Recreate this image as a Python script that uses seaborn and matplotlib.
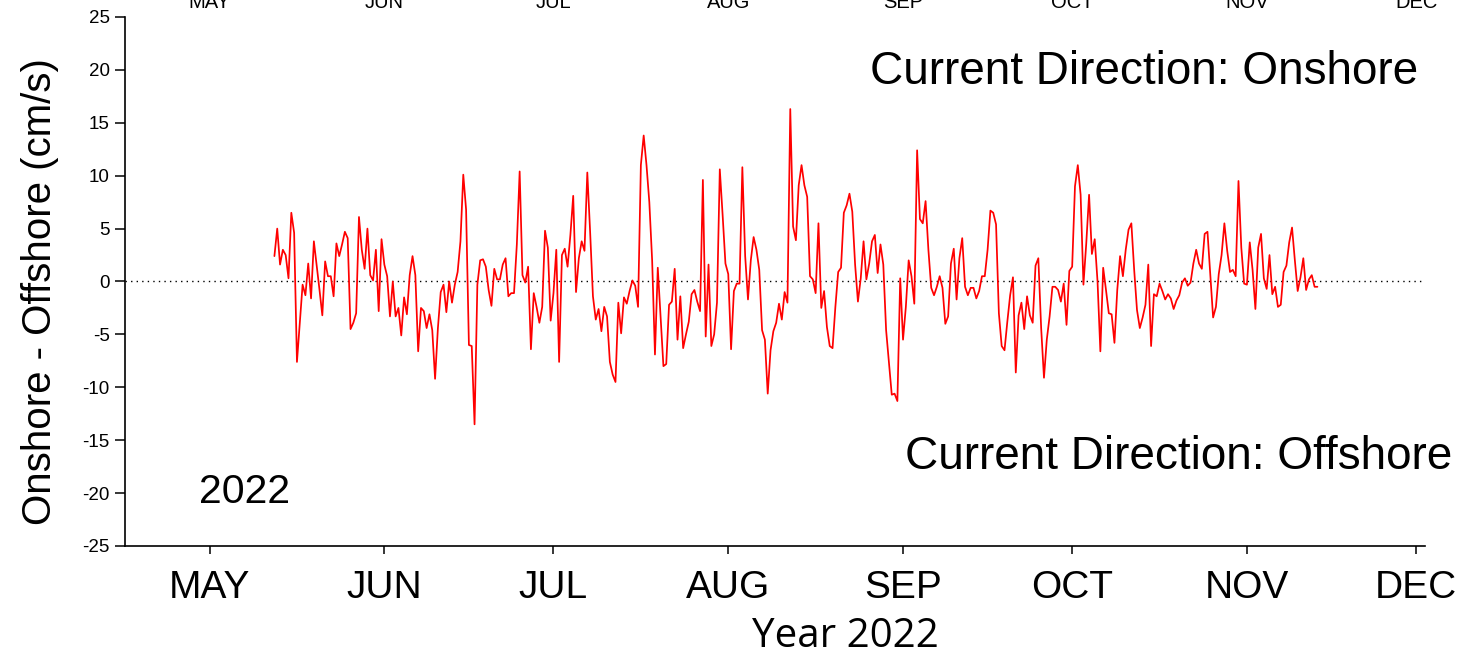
import numpy as np
import pandas as pd
import matplotlib
matplotlib.use("Agg")
import matplotlib.pyplot as plt
import matplotlib.transforms as mtransforms
import seaborn as sns

# ---------------- data (12-hourly onshore-offshore current, cm/s) ----------------
start_time = "2022-05-12 12:00"
seg1 = [2.4, 5.0, 1.6, 3.0, 2.5, 0.3, 6.5, 4.6, -7.6, -4.0, -0.3, -1.3, 1.7, -1.6, 3.8, 1.5,
        -0.8, -3.2, 1.9, 0.5, 0.5, -1.4, 3.6, 2.4, 3.5, 4.7, 4.1, -4.5, -3.9, -3.0, 6.1, 3.0,
        1.2, 5.0, 0.6, 0.1, 3.0, -2.8, 4.0, 1.6, 0.5, -3.3, 0.0, -3.3, -2.5]
seg2 = [-5.1, -1.5, -3.1, 0.6, 2.4, 0.6, -6.6, -2.5, -2.8, -4.4, -3.1, -4.6, -9.2, -4.4, -1.0,
        -0.3, -2.9, 0.0, -2.0, -0.3, 0.9, 3.8, 10.1, 6.8, -6.0, -6.1, -13.5, -0.3, 2.0, 2.1,
        1.4, -0.8, -2.3, 1.2, 0.2, 0.2, 1.6, 2.2, -1.4, -1.1, -1.1, 3.5, 10.4, 0.6, -0.1, 1.4]
seg3 = [-6.4, -1.1, -2.4, -3.9, -2.4, 4.8, 3.2, -3.7, -1.1, 3.0, -7.6, 2.5, 3.1, 1.4, 4.4,
        8.1, -1.0, 2.2, 3.8, 2.9, 10.3, 4.7, -1.4, -3.6, -2.6, -4.7, -2.4, -3.3, -7.6, -8.8,
        -9.5, -2.0, -4.9, -1.5, -2.1, -0.9, 0.1, -0.4, -2.4, 11.0, 13.8, 11.0, 7.5, 2.0, -6.9, 1.3]
seg4 = [-3.3, -8.0, -7.8, -2.2, -1.9, 1.2, -5.5, -1.4, -6.3, -5.0, -3.8, -1.2, -0.8, -1.9, -2.8,
        9.6, -5.2, 1.6, -6.1, -5.0, -2.0, 10.6, 6.3, 1.7, 0.7, -6.4, -0.9, -0.2, -0.2, 10.8,
        2.4, -1.7, 2.0, 4.2, 3.0, 1.1, -4.6, -5.5, -10.6, -6.5, -4.7, -3.9, -2.1, -3.6, -1.0, -2.0]
seg5 = [16.3, 5.2, 3.9, 9.1, 11.0, 9.1, 8.0, 0.5, 0.2, -1.1, 5.5, -2.5, -0.9, -4.3, -6.1,
        -6.3, -2.4, 0.9, 1.3, 6.5, 7.2, 8.3, 6.6, 1.6, -1.9, 0.3, 3.8, 0.2, 1.7, 3.8, 4.4, 0.8,
        3.5, 1.6, -4.6, -7.7, -10.7, -10.6, -11.3, 0.3, -5.5, -2.4, 2.0, 0.5, -2.1, 12.4]
seg6 = [5.9, 5.5, 7.6, 3.0, -0.6, -1.3, -0.5, 0.5, -0.6, -4.0, -3.3, 1.7, 3.1, -1.7, 2.2, 4.1,
        -0.5, -1.3, -0.6, -0.6, -1.6, -0.9, 0.5, 0.5, 3.0, 6.7, 6.5, 5.4, -3.0, -6.1, -6.5,
        -3.8, -1.3, 0.4, -8.6, -3.2, -2.0, -4.5, -1.4, -3.2, -3.9, 1.5, 2.2, -4.4, -9.1, -5.5]
seg7 = [-3.3, -0.5, -0.5, -0.8, -1.9, -0.2, -4.1, 1.0, 1.4, 9.0, 11.0, 8.2, -0.3, 3.6, 8.2,
        2.6, 4.0, 0.0, -6.6, 1.3, -0.8, -3.0, -3.1, -5.8, -0.8, 2.4, 0.5, 3.0, 4.9, 5.5, 1.1,
        -2.7, -4.4, -3.4, -2.2, 1.6, -6.1, -1.2, -1.4, -0.2, -0.9, -1.7, -1.2, -1.6, -2.6, -1.8]
seg8 = [-1.3, -0.1, 0.3, -0.4, -0.1, 1.7, 3.0, 1.7, 1.2, 4.5, 4.7, 0.7, -3.4, -2.4, 0.7, 2.5,
        5.5, 2.9, 0.9, 1.1, 0.5, 9.5, 3.2, -0.2, -0.3, 3.7, 1.1, -2.6, 3.2, 4.5, 0.3, -0.7,
        2.5, -1.2, -0.5, -2.4, -2.2, 0.9, 1.5, 3.7, 5.1, 2.0, -0.9, 0.4, 2.2, -0.8, 0.2, 0.6,
        -0.5, -0.5]

month_labels = ["MAY", "JUN", "JUL", "AUG", "SEP", "OCT", "NOV", "DEC"]
month_starts = ["2022-05-01", "2022-06-01", "2022-07-01", "2022-08-01",
                "2022-09-01", "2022-10-01", "2022-11-01", "2022-12-01"]
y_ticks = [-25, -20, -15, -10, -5, 0, 5, 10, 15, 20, 25]

values = seg1 + seg2 + seg3 + seg4 + seg5 + seg6 + seg7 + seg8
times = pd.date_range(start_time, periods=len(values), freq="12h")
df = pd.DataFrame({"time": times, "current": values})

# ---------------- figure ----------------
sns.set_style("ticks")
plt.rcParams["font.family"] = ["Liberation Sans", "DejaVu Sans"]
plt.rcParams["text.color"] = "black"
plt.rcParams["axes.labelcolor"] = "black"
plt.rcParams["xtick.color"] = "black"
plt.rcParams["ytick.color"] = "black"

fig = plt.figure(figsize=(14.65, 6.63), dpi=100)
ax = fig.add_axes([125 / 1465, 1 - 546 / 663, 1300 / 1465, 529 / 663])

ax.axhline(0, color="black", ls=(0, (1, 3)), lw=1.0, zorder=1)
sns.lineplot(data=df, x="time", y="current", ax=ax, color="#ff0000", lw=1.25,
             estimator=None, zorder=3)

ax.set_xlim(pd.Timestamp("2022-04-16"), pd.Timestamp("2022-12-02 14:00"))
ax.set_ylim(-25, 25)
ax.set_xticks(pd.to_datetime(month_starts))
ax.set_xticklabels(month_labels, fontsize=28)
ax.set_yticks(y_ticks)
ax.set_yticklabels([str(t) for t in y_ticks], fontsize=13.5)
ax.tick_params(axis="x", direction="out", length=6, width=1.1, pad=11,
               colors="black", labelcolor="black")
ax.tick_params(axis="y", direction="out", length=7, width=1.1, pad=4,
               colors="black", labelcolor="black")
for s in ["top", "right"]:
    ax.spines[s].set_visible(False)
for s in ["left", "bottom"]:
    ax.spines[s].set_linewidth(1.2)
    ax.spines[s].set_color("black")
ax.set_xlabel("")
ax.set_ylabel("")

fig.text(40 / 1465, 1 - 292 / 663, "Onshore - Offshore (cm/s)", rotation=90,
         ha="center", va="center", fontsize=29, color="black")
fig.text(845 / 1465, 1 - 637 / 663, "Year 2022", ha="center", va="center",
         fontsize=29, family=["Open Sans", "DejaVu Sans"], color="black")
fig.text(1418 / 1465, 1 - 72 / 663, "Current Direction: Onshore", ha="right",
         va="center", fontsize=33, color="black")
fig.text(1452 / 1465, 1 - 457 / 663, "Current Direction: Offshore", ha="right",
         va="center", fontsize=33, color="black")
fig.text(245 / 1465, 1 - 492 / 663, "2022", ha="center", va="center", fontsize=29.5,
         color="black")

# clipped month labels of the panel above
trans = mtransforms.blended_transform_factory(ax.transData, fig.transFigure)
for d, lab in zip(pd.to_datetime(month_starts), month_labels):
    ax.text(d, 1 - 8 / 663, lab, transform=trans, ha="center", va="baseline",
            fontsize=14.5, clip_on=False, color="black")

fig.savefig("out.png", dpi=100)
